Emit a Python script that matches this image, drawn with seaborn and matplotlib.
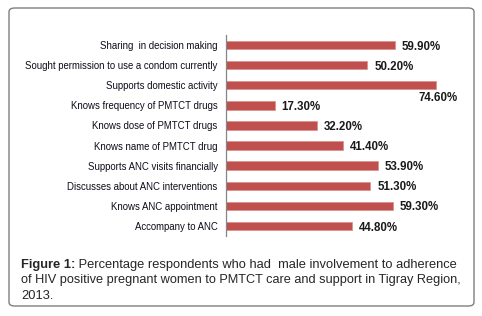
import matplotlib
matplotlib.use('Agg')
import matplotlib.pyplot as plt
import seaborn as sns
import pandas as pd
import numpy as np
from matplotlib.patches import FancyBboxPatch

categories = [
    "Sharing  in decision making",
    "Sought permission to use a condom currently",
    "Supports domestic activity",
    "Knows frequency of PMTCT drugs",
    "Knows dose of PMTCT drugs",
    "Knows name of PMTCT drug",
    "Supports ANC visits financially",
    "Discusses about ANC interventions",
    "Knows ANC appointment",
    "Accompany to ANC",
]
values = [59.9, 50.2, 74.6, 17.3, 32.2, 41.4, 53.9, 51.3, 59.3, 44.8]
value_labels = ["59.90%", "50.20%", "74.60%", "17.30%", "32.20%",
                "41.40%", "53.90%", "51.30%", "59.30%", "44.80%"]

sns.set_style('white')
W, H = 482, 316
fig = plt.figure(figsize=(W / 100, H / 100), dpi=100)

def fx(px):
    return px / W

def fy(py):
    return 1 - py / H

ax_left, ax_right, ax_top, ax_bot = 226, 470, 35, 236
ax = fig.add_axes([fx(ax_left), fy(ax_bot), fx(ax_right - ax_left), (ax_bot - ax_top) / H])
df = pd.DataFrame({'cat': categories, 'val': values})
sns.barplot(data=df, y='cat', x='val', orient='h', color='#C0504D',
            width=0.42, saturation=1, edgecolor='#D88C8A', linewidth=0.5, ax=ax)
pxu = 2.815
ax.set_xlim(0, (ax_right - ax_left) / pxu)
ax.set_ylim(len(categories) - 0.5, -0.5)
for s in ['top', 'right', 'bottom']:
    ax.spines[s].set_visible(False)
ax.spines['left'].set_color('#868686')
ax.spines['left'].set_linewidth(0.9)
ax.set_xticks([])
ax.set_xlabel('')
ax.set_ylabel('')
ax.tick_params(axis='y', which='major', length=0, pad=6.0)
ax.set_yticks(np.arange(-0.5, len(categories), 1), minor=True)
ax.tick_params(axis='y', which='minor', length=2.5, direction='out', color='#868686', width=0.9)
for lab in ax.get_yticklabels():
    lab.set_fontfamily('Liberation Sans')
    lab.set_fontsize(6.9)
    lab.set_color('#0d0d1a')

for i, (v, t) in enumerate(zip(values, value_labels)):
    if v > 70:
        ax.text(82.4, i + 0.62, t, ha='right', va='center', fontsize=8.3,
                fontweight='bold', family='Liberation Sans', color='#1a1a1a')
    else:
        ax.text(v + 2.5, i + 0.08, t, ha='left', va='center', fontsize=8.3,
                fontweight='bold', family='Liberation Sans', color='#1a1a1a')

# border
box = FancyBboxPatch((fx(9), fy(306)), fx(474 - 9), (306 - 8) / H,
                     boxstyle='round,pad=0,rounding_size=0.012',
                     transform=fig.transFigure, facecolor='none',
                     edgecolor='#7f7f7f', linewidth=1.0)
fig.patches.append(box)

# caption
cap_fs = 9.3
t1 = fig.text(fx(21), fy(268), "Figure 1:", fontsize=cap_fs, fontweight='bold',
              family='Liberation Sans', va='baseline', ha='left')
fig.canvas.draw()
bb = t1.get_window_extent(renderer=fig.canvas.get_renderer())
fig.text(bb.x1 / W, fy(268), " Percentage respondents who had  male involvement to adherence",
         fontsize=cap_fs, family='Liberation Sans', va='baseline', ha='left')
fig.text(fx(21), fy(283.5), "of HIV positive pregnant women to PMTCT care and support in Tigray Region,",
         fontsize=cap_fs * 0.985, family='Liberation Sans', va='baseline', ha='left')
fig.text(fx(21), fy(299), "2013.",
         fontsize=cap_fs, family='Liberation Sans', va='baseline', ha='left')

fig.savefig('out.png', dpi=100)
